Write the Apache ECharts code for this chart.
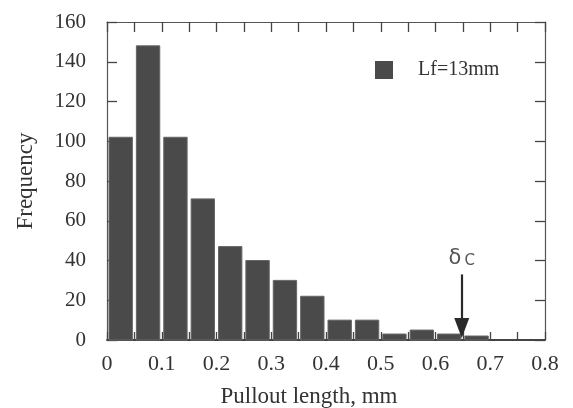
<!DOCTYPE html>
<html>
<head>
<meta charset="utf-8">
<script src="https://cdn.jsdelivr.net/npm/echarts@6/dist/echarts.min.js"></script>
<style>
html,body{margin:0;padding:0;background:#fff;}
#chart{width:573px;height:408px;}
</style>
</head>
<body>
<div id="chart"></div>
<script>
// Histogram bins (mm) and counts
var binStarts = [0, 0.05, 0.10, 0.15, 0.20, 0.25, 0.30, 0.35, 0.40, 0.45, 0.50, 0.55, 0.60, 0.65];
var binWidth = 0.05;
var counts = [102, 148, 102, 71, 47, 40, 30, 22, 10, 10, 3, 5, 3, 2];
var seriesName = 'Lf=13mm';
// critical length annotation (delta_c)
var deltaC = 0.648;
var arrowFrom = 33;
var arrowTo = 6;
var deltaLabelY = 42;

var FONT = '"Liberation Serif", "Times New Roman", serif';
var TXT = '#333';
var AX = '#444';

var histData = binStarts.map(function (s, i) { return [s, s + binWidth, counts[i]]; });

var chart = echarts.init(document.getElementById('chart'));
chart.setOption({
  animation: false,
  backgroundColor: '#fff',
  grid: { left: 107, right: 28, top: 22, bottom: 68, containLabel: false, outerBoundsMode: 'none' },
  legend: {
    left: 375, top: 60, padding: 0,
    itemWidth: 18, itemHeight: 18,
    data: [{ name: seriesName, icon: 'rect' }],
    textStyle: { fontFamily: FONT, fontSize: 20, color: TXT, padding: [0, 0, 0, 20] }
  },
  xAxis: [{
    type: 'value', min: 0, max: 0.8, interval: 0.1, position: 'bottom',
    name: 'Pullout length, mm', nameLocation: 'middle', nameGap: 45,
    nameTextStyle: { fontFamily: FONT, fontSize: 23, color: TXT, padding: [0, 34, 0, 0] },
    axisLine: { show: true, onZero: false, lineStyle: { color: '#444', width: 1.8 } },
    axisTick: { show: true, inside: true, length: 8, lineStyle: { color: AX, width: 1.3 } },
    minorTick: { show: true, splitNumber: 2, length: 8, lineStyle: { color: AX, width: 1.3 } },
    axisLabel: { fontFamily: FONT, fontSize: 22, color: TXT, margin: 13,
      formatter: function (v) { return v === 0 ? '0' : v.toFixed(1); } },
    splitLine: { show: false }
  }, {
    type: 'value', min: 0, max: 0.8, interval: 0.1, position: 'top',
    axisLine: { show: true, onZero: false, lineStyle: { color: '#555', width: 1.2 } },
    axisTick: { show: true, inside: true, length: 10, lineStyle: { color: AX, width: 1.3 } },
    minorTick: { show: true, splitNumber: 2, length: 10, lineStyle: { color: AX, width: 1.3 } },
    axisLabel: { show: false }, splitLine: { show: false }
  }],
  yAxis: [{
    type: 'value', min: 0, max: 160, interval: 20, position: 'left',
    name: 'Frequency', nameLocation: 'middle', nameGap: 70,
    nameTextStyle: { fontFamily: FONT, fontSize: 23, color: TXT },
    axisLine: { show: true, onZero: false, lineStyle: { color: '#555', width: 1.2 } },
    axisTick: { show: true, inside: true, length: 10, lineStyle: { color: AX, width: 1.3 } },
    axisLabel: { fontFamily: FONT, fontSize: 21, color: TXT, margin: 21 },
    splitLine: { show: false }
  }, {
    type: 'value', min: 0, max: 160, interval: 20, position: 'right',
    axisLine: { show: true, onZero: false, lineStyle: { color: '#555', width: 1.2 } },
    axisTick: { show: true, inside: true, length: 10, lineStyle: { color: AX, width: 1.3 } },
    axisLabel: { show: false }, splitLine: { show: false }
  }],
  series: [{
    type: 'custom',
    name: seriesName,
    xAxisIndex: 0, yAxisIndex: 0,
    itemStyle: { color: '#4a4a4a' },
    encode: { x: [0, 1], y: 2 },
    data: histData,
    z: 1,
    renderItem: function (params, api) {
      var p0 = api.coord([api.value(0), api.value(2)]);
      var p1 = api.coord([api.value(1), 0]);
      var inset = 2;
      return {
        type: 'rect',
        shape: { x: p0[0] + inset, y: p0[1], width: p1[0] - p0[0] - 2 * inset, height: p1[1] - p0[1] },
        style: { fill: '#4a4a4a', stroke: '#666', lineWidth: 1 }
      };
    }
  }, {
    type: 'line',
    name: 'arrow',
    xAxisIndex: 0, yAxisIndex: 0,
    data: [],
    silent: true,
    markLine: {
      silent: true,
      symbol: ['none', 'triangle'],
      symbolSize: [15, 20],
      lineStyle: { color: '#2a2a2a', width: 2.2, type: 'solid' },
      label: { show: false },
      data: [[{ coord: [deltaC, arrowFrom] }, { coord: [deltaC, arrowTo] }]]
    }
  }, {
    type: 'scatter',
    name: 'deltaLabel',
    xAxisIndex: 0, yAxisIndex: 0,
    symbolSize: 0,
    silent: true,
    data: [[deltaC, deltaLabelY]],
    label: {
      show: true, position: 'inside',
      formatter: '{d|δ}{c|C}',
      rich: {
        d: { fontFamily: '"DejaVu Sans", sans-serif', fontSize: 21, color: '#2a2a2a', verticalAlign: 'bottom' },
        c: { fontFamily: '"DejaVu Sans", sans-serif', fontSize: 15, color: '#2a2a2a', padding: [10, 0, 0, 3] }
      }
    }
  }]
});
</script>
</body>
</html>
